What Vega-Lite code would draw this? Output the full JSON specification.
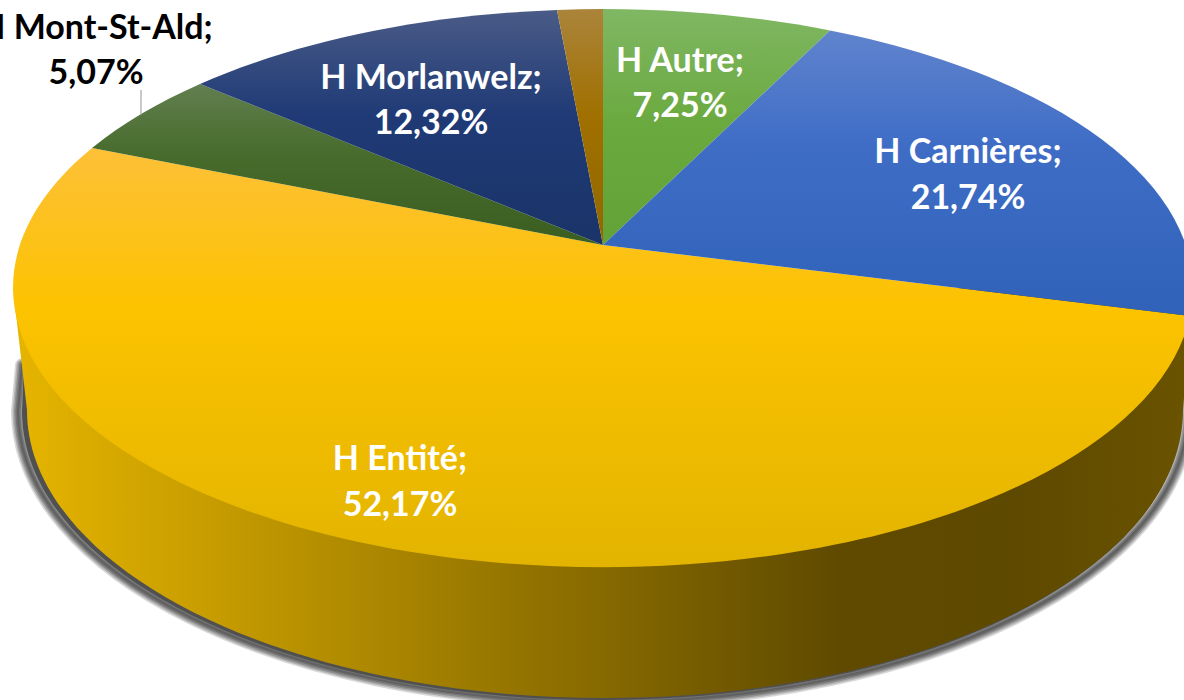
{
"$schema":"https://vega.github.io/schema/vega-lite/v6.json",
"width":1184,"height":700,"padding":0,"autosize":{"type":"none"},
"background":"white",
"view":{"stroke":null},
"config":{"view":{"stroke":null}},
"data":{"values":[
{"slice":"H Entité","share":52.17,"label":"H Entité;\n52,17%"},
{"slice":"H Mont-St-Ald","share":5.07,"label":"H Mont-St-Ald;\n5,07%"},
{"slice":"H Morlanwelz","share":12.32,"label":"H Morlanwelz;\n12,32%"},
{"slice":"Sans étiquette","share":1.45,"label":""},
{"slice":"H Autre","share":7.25,"label":"H Autre;\n7,25%"},
{"slice":"H Carnières","share":21.74,"label":"H Carnières;\n21,74%"}
]},
"layer":[
{"transform":[{"filter":"datum.slice==='H Entité'"}],"mark":{"type":"point","size":4,"filled":false,"fill":null,"stroke":"#404040","strokeWidth":14,"strokeCap":"round","opacity":0.2,"shape":"M-570,15L-574,61A585,291 0 0 0 596,61L599,25"}},
{"transform":[{"filter":"datum.slice==='H Entité'"}],"mark":{"type":"point","size":4,"filled":false,"fill":null,"stroke":"#404040","strokeWidth":11,"strokeCap":"round","opacity":0.25,"shape":"M-570,15L-574,61A585,291 0 0 0 596,61L599,25"}},
{"transform":[{"filter":"datum.slice==='H Entité'"}],"mark":{"type":"point","size":4,"filled":false,"fill":null,"stroke":"#404040","strokeWidth":8,"strokeCap":"round","opacity":0.3,"shape":"M-570,15L-574,61A585,291 0 0 0 596,61L599,25"}},
{"transform":[{"filter":"datum.slice==='H Entité'"}],"mark":{"type":"point","size":4,"filled":false,"fill":null,"stroke":"#404040","strokeWidth":5,"strokeCap":"round","opacity":0.35,"shape":"M-570,15L-574,61A585,291 0 0 0 596,61L599,25"}},
{"transform":[{"filter":"datum.slice==='H Entité'"}],"mark":{"type":"point","size":4,"filled":false,"fill":null,"stroke":"#404040","strokeWidth":2,"strokeCap":"round","opacity":0.35,"shape":"M-570,15L-574,61A585,291 0 0 0 596,61L599,25"}},
{"transform":[{"filter":"datum.slice==='H Entité'"}],"mark":{"type":"point","size":4,"filled":true,"fill":"#505050","opacity":1,"strokeWidth":0,"shape":"M-568,15L-570,61A580,289 0 0 0 590,61L594,25Z"}},
{"transform":[{"filter":"datum.slice==='H Entité'"}],"mark":{"type":"point","size":4,"filled":true,"opacity":1,"strokeWidth":0,"shape":"M-579,-62L-565,60A578,288 0 0 0 591,60L601,-62Z","fill":{"gradient":"linear","x1":0,"y1":0,"x2":1,"y2":0,"stops":[{"offset":0,"color":"#e6b500"},{"offset":0.25,"color":"#b79000"},{"offset":0.5,"color":"#866900"},{"offset":0.7,"color":"#5f4a00"},{"offset":0.85,"color":"#5e4900"},{"offset":1,"color":"#6a5300"}]}}},
{"transform":[{"filter":"datum.slice==='H Entité'"}],"mark":{"type":"point","size":4,"filled":true,"opacity":1,"strokeWidth":0,"shape":"M11,-105L598,-34A590,279.5 0 1 1 -500,-202Z","fill":{"gradient":"linear","x1":0,"y1":0,"x2":0,"y2":1,"stops":[{"offset":0,"color":"#fdc038"},{"offset":0.38,"color":"#fcc300"},{"offset":1,"color":"#e2b400"}]}}},
{"transform":[{"filter":"datum.slice==='H Mont-St-Ald'"}],"mark":{"type":"point","size":4,"filled":true,"opacity":1,"strokeWidth":0,"shape":"M11,-105L-500,-202A590,279.5 0 0 1 -392,-266Z","fill":{"gradient":"linear","x1":0,"y1":0,"x2":0,"y2":1,"stops":[{"offset":0,"color":"#627f50"},{"offset":0.45,"color":"#466b2b"},{"offset":1,"color":"#3a5e20"}]}}},
{"transform":[{"filter":"datum.slice==='H Morlanwelz'"}],"mark":{"type":"point","size":4,"filled":true,"opacity":1,"strokeWidth":0,"shape":"M11,-105L-392,-266A590,279.5 0 0 1 -35,-340Z","fill":{"gradient":"linear","x1":0,"y1":0,"x2":0,"y2":1,"stops":[{"offset":0,"color":"#4a5b87"},{"offset":0.45,"color":"#1f3a76"},{"offset":1,"color":"#1a3468"}]}}},
{"transform":[{"filter":"datum.slice==='Sans étiquette'"}],"mark":{"type":"point","size":4,"filled":true,"opacity":1,"strokeWidth":0,"shape":"M11,-105L-35,-340A590,279.5 0 0 1 11,-341Z","fill":{"gradient":"linear","x1":0,"y1":0,"x2":0,"y2":1,"stops":[{"offset":0,"color":"#ab843b"},{"offset":0.45,"color":"#a07000"},{"offset":1,"color":"#936800"}]}}},
{"transform":[{"filter":"datum.slice==='H Autre'"}],"mark":{"type":"point","size":4,"filled":true,"opacity":1,"strokeWidth":0,"shape":"M11,-105L11,-341A590,279.5 0 0 1 238,-319.5Z","fill":{"gradient":"linear","x1":0,"y1":0,"x2":0,"y2":1,"stops":[{"offset":0,"color":"#80b763"},{"offset":0.5,"color":"#6aa93e"},{"offset":1,"color":"#62a236"}]}}},
{"transform":[{"filter":"datum.slice==='H Carnières'"}],"mark":{"type":"point","size":4,"filled":true,"opacity":1,"strokeWidth":0,"shape":"M11,-105L238,-319.5A590,279.5 0 0 1 598,-34Z","fill":{"gradient":"linear","x1":0,"y1":0,"x2":0,"y2":1,"stops":[{"offset":0,"color":"#6084cd"},{"offset":0.4,"color":"#3f6dc6"},{"offset":1,"color":"#2f62b8"}]}}},
{"transform":[{"filter":"datum.slice==='H Mont-St-Ald'"}],"mark":{"type":"point","size":4,"filled":false,"fill":null,"stroke":"#a6a6a6","strokeWidth":1.2,"opacity":1,"shape":"M-451,-260L-451,-235"}},
{"transform":[{"filter":"datum.slice==='H Entité'"}],"mark":{"type":"text","font":"Lato","fontWeight":"bold","fontSize":34,"lineHeight":46,"lineBreak":"\n","align":"center","baseline":"middle","color":"white","dx":-192,"dy":110},"encoding":{"text":{"field":"label"}}},
{"transform":[{"filter":"datum.slice==='H Mont-St-Ald'"}],"mark":{"type":"text","font":"Lato","fontWeight":"bold","fontSize":34,"lineHeight":45,"lineBreak":"\n","align":"center","baseline":"middle","color":"black","dx":-496,"dy":-321},"encoding":{"text":{"field":"label"}}},
{"transform":[{"filter":"datum.slice==='H Morlanwelz'"}],"mark":{"type":"text","font":"Lato","fontWeight":"bold","fontSize":34,"lineHeight":45,"lineBreak":"\n","align":"center","baseline":"middle","color":"white","dx":-161,"dy":-271},"encoding":{"text":{"field":"label"}}},
{"transform":[{"filter":"datum.slice==='H Autre'"}],"mark":{"type":"text","font":"Lato","fontWeight":"bold","fontSize":34,"lineHeight":45,"lineBreak":"\n","align":"center","baseline":"middle","color":"white","dx":88,"dy":-288},"encoding":{"text":{"field":"label"}}},
{"transform":[{"filter":"datum.slice==='H Carnières'"}],"mark":{"type":"text","font":"Lato","fontWeight":"bold","fontSize":34,"lineHeight":46,"lineBreak":"\n","align":"center","baseline":"middle","color":"white","dx":376,"dy":-197},"encoding":{"text":{"field":"label"}}}
]
}
